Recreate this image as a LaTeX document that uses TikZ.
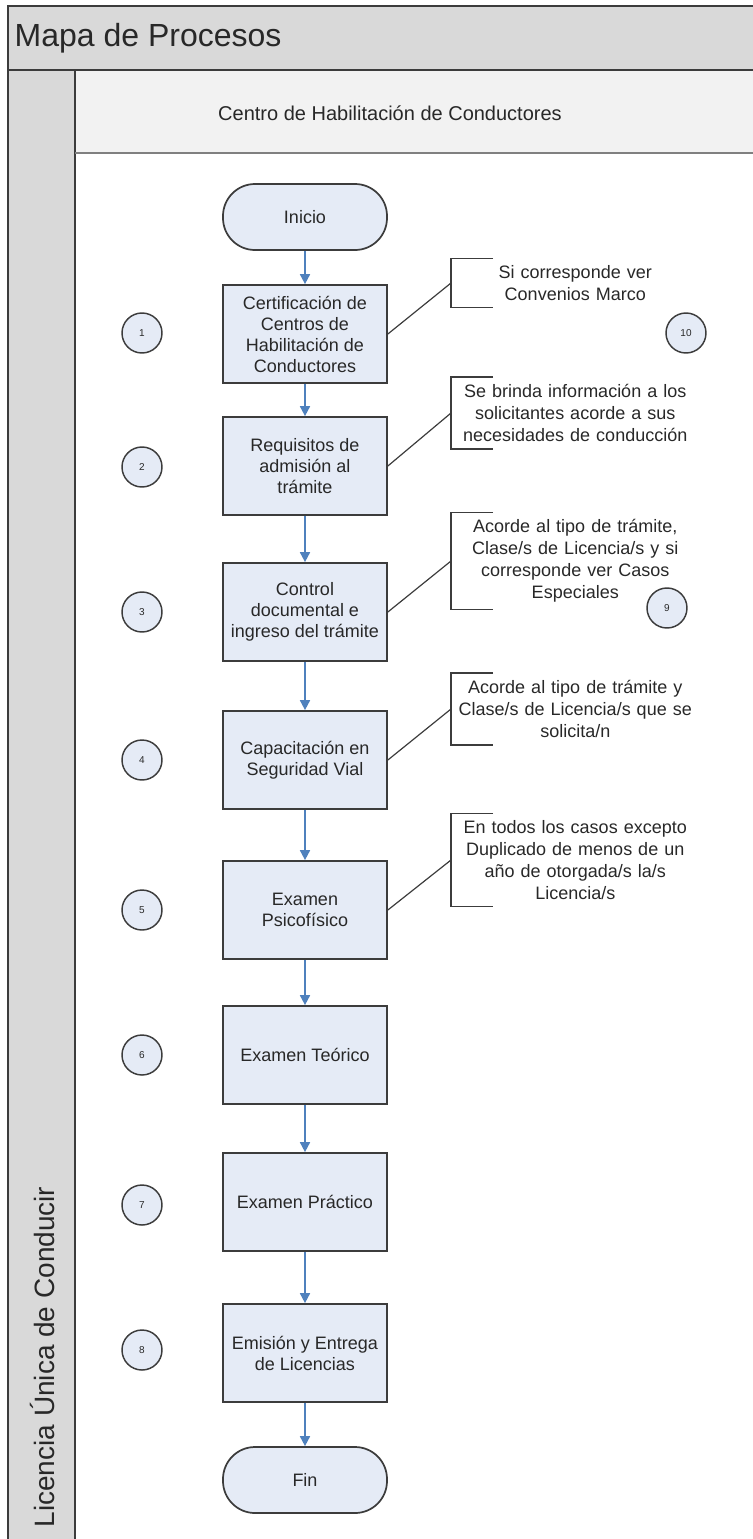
\documentclass[tikz,border=0pt]{standalone}
\usepackage{fontspec}
\setmainfont{Liberation Sans}
\usetikzlibrary{arrows.meta}

\definecolor{cajaazul}{RGB}{229,235,246}
\definecolor{bordegris}{RGB}{60,60,60}
\definecolor{flechaazul}{RGB}{79,129,189}
\definecolor{carril}{RGB}{217,217,217}
\definecolor{cabecera}{RGB}{242,242,242}
\definecolor{texto}{RGB}{40,40,40}

\tikzset{
  proceso/.style={draw=bordegris, line width=1.3pt, fill=cajaazul, minimum width=123pt, minimum height=73.5pt, align=center, text=texto, font=\fontsize{13.5}{15.75}\selectfont},
  terminal/.style={proceso, rounded corners=24pt, minimum height=49.5pt},
  numero/.style={circle, draw=bordegris, line width=1.1pt, fill=cajaazul, minimum size=30pt, inner sep=0pt, text=texto, font=\fontsize{7.5}{9}\selectfont},
  nota/.style={anchor=west, text width=186pt, align=center, inner xsep=0pt, inner ysep=5pt, text=texto, font=\fontsize{13.5}{16.5}\selectfont},
  flecha/.style={draw=flechaazul, line width=1.3pt, -{Triangle[length=7.5pt, width=7.5pt]}},
  enlace/.style={draw=bordegris, line width=0.9pt},
  corchete/.style={draw=bordegris, line width=1.3pt}
}

\begin{document}
\begin{tikzpicture}[x=0.75pt, y=-0.75pt]
		\useasboundingbox (0,0) rectangle (753,1539);

		% Carriles y cabecera
		\fill[carril] (8,6) rectangle (753,70);
		\fill[carril] (8,70) rectangle (75,1539);
		\fill[cabecera] (75,70) rectangle (753,153);
		\draw[bordegris, line width=1.5pt] (753,6) -- (8,6) -- (8,1539);
		\draw[bordegris, line width=1.5pt] (8,70) -- (753,70);
		\draw[bordegris, line width=1.5pt] (75,70) -- (75,1539);
		\draw[gray, line width=0.9pt] (75,153) -- (753,153);
		\node[anchor=west, text=texto, font=\fontsize{24}{28}\selectfont] (titulo) at (10,38) {Mapa de Procesos};
		\node[text=texto, font=\fontsize{15}{18}\selectfont] (centro) at (390,113) {Centro de Habilitación de Conductores};
		\node[rotate=90, text=texto, font=\fontsize{21}{25}\selectfont] (licencia) at (42,1357) {Licencia Única de Conducir};

		% Pasos del proceso
		\node[terminal] (inicio) at (305,217) {Inicio};
		\node[proceso] (certificacion) at (305,334) {Certificación de\\Centros de\\Habilitación de\\Conductores};
		\node[proceso] (requisitos) at (305,466) {Requisitos de\\admisión al\\trámite};
		\node[proceso] (control) at (305,612) {Control\\documental e\\ingreso del trámite};
		\node[proceso] (capacitacion) at (305,760) {Capacitación en\\Seguridad Vial};
		\node[proceso] (psicofisico) at (305,910) {Examen\\Psicofísico};
		\node[proceso] (teorico) at (305,1055) {Examen Teórico};
		\node[proceso] (practico) at (305,1202) {Examen Práctico};
		\node[proceso] (emision) at (305,1353) {Emisión y Entrega\\de Licencias};
		\node[terminal] (fin) at (305,1480) {Fin};

		% Flechas
		\draw[flecha] (inicio) -- (certificacion);
		\draw[flecha] (certificacion) -- (requisitos);
		\draw[flecha] (requisitos) -- (control);
		\draw[flecha] (control) -- (capacitacion);
		\draw[flecha] (capacitacion) -- (psicofisico);
		\draw[flecha] (psicofisico) -- (teorico);
		\draw[flecha] (teorico) -- (practico);
		\draw[flecha] (practico) -- (emision);
		\draw[flecha] (emision) -- (fin);

		% Numeros
		\node[numero] (num1) at (142,333) {1};
		\node[numero] (num2) at (142,467) {2};
		\node[numero] (num3) at (142,612) {3};
		\node[numero] (num4) at (142,760) {4};
		\node[numero] (num5) at (142,910) {5};
		\node[numero] (num6) at (142,1055) {6};
		\node[numero] (num7) at (142,1205) {7};
		\node[numero] (num8) at (142,1350) {8};
		\node[numero] (num9) at (667,608) {9};
		\node[numero] (num10) at (686,333) {10};

		% Notas
		\node[nota] (notaconvenios) at (451,283) {Si corresponde ver\\Convenios Marco};
		\node[nota] (notainfo) at (451,413) {Se brinda información a los\\solicitantes acorde a sus\\necesidades de conducción};
		\node[nota] (notatipo) at (451,561) {Acorde al tipo de trámite,\\Clase/s de Licencia/s y si\\corresponde ver Casos\\Especiales};
		\node[nota] (notaclase) at (451,709) {Acorde al tipo de trámite y\\Clase/s de Licencia/s que se\\solicita/n};
		\node[nota] (notacasos) at (451,860) {En todos los casos excepto\\Duplicado de menos de un\\año de otorgada/s la/s\\Licencia/s};

		\foreach \n in {notaconvenios,notainfo,notatipo,notaclase,notacasos}
			\draw[corchete] ([xshift=31.5pt]\n.north west) -- (\n.north west) -- (\n.south west) -- ([xshift=31.5pt]\n.south west);

		\draw[enlace] (certificacion.east) -- (notaconvenios.west);
		\draw[enlace] (requisitos.east) -- (notainfo.west);
		\draw[enlace] (control.east) -- (notatipo.west);
		\draw[enlace] (capacitacion.east) -- (notaclase.west);
		\draw[enlace] (psicofisico.east) -- (notacasos.west);
	\end{tikzpicture}
\end{document}
